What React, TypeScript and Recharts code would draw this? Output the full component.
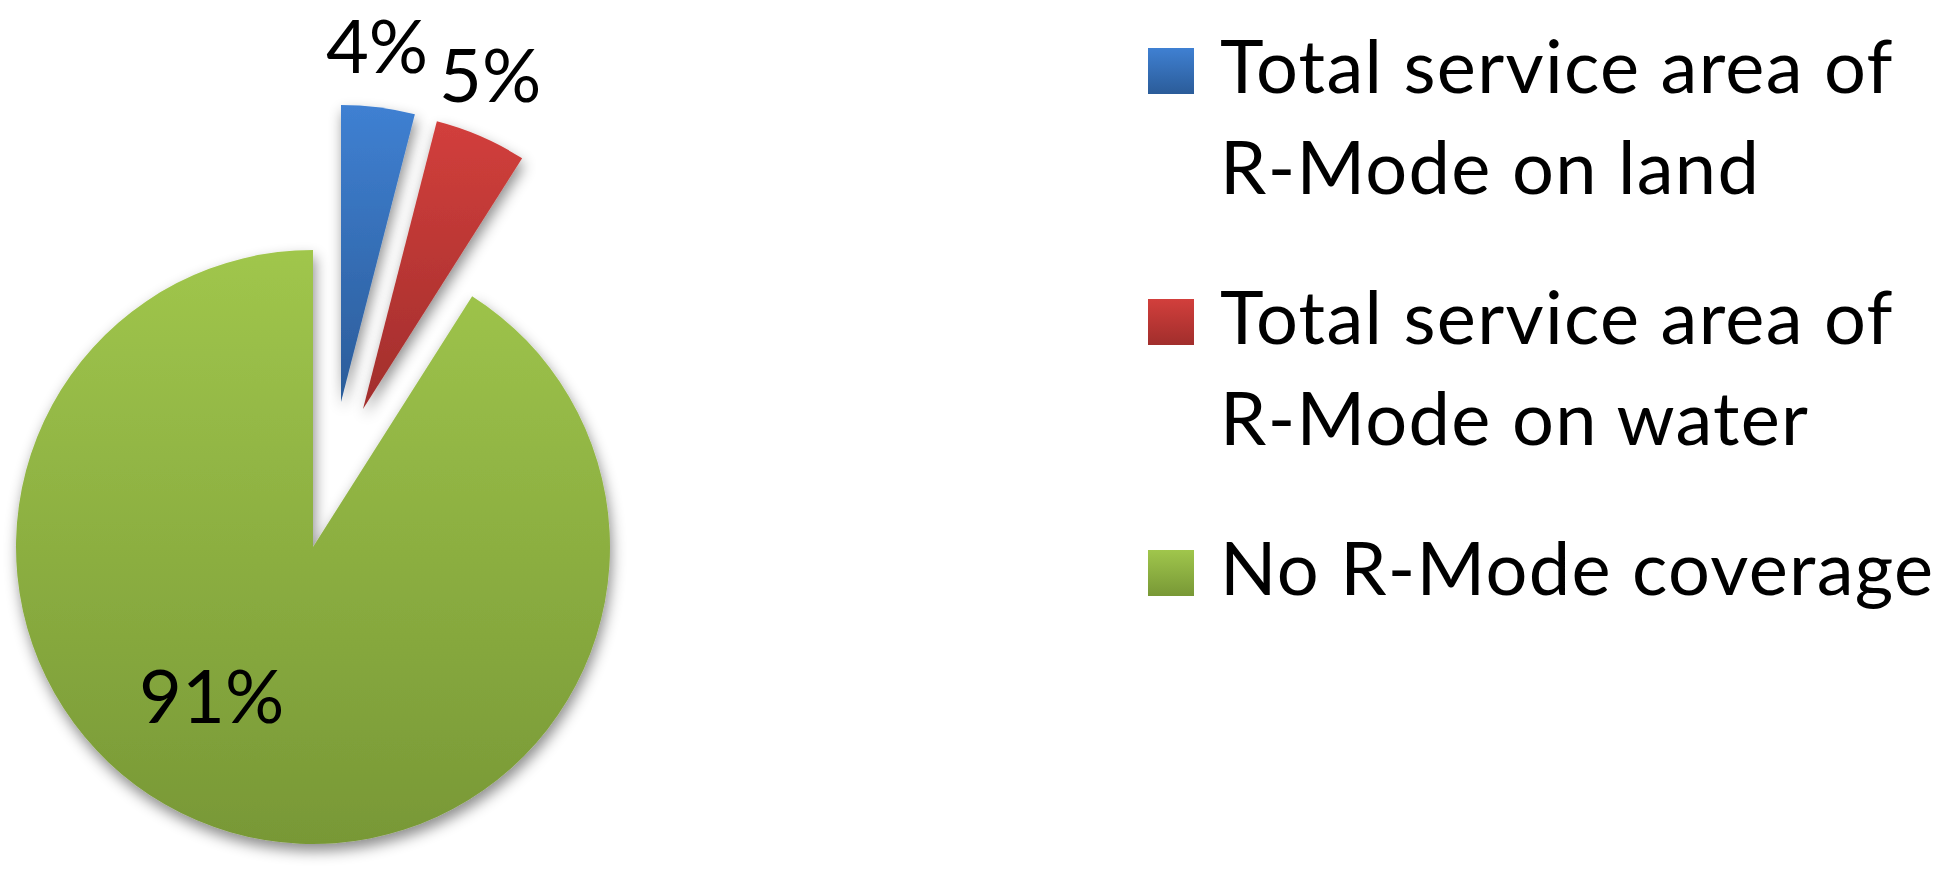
import React from 'react';
import { PieChart, Pie, Legend, Sector } from 'recharts';

// ---- data ----
const categories = [
  'Total service area of R-Mode on land',
  'Total service area of R-Mode on water',
  'No R-Mode coverage',
];
const values = [4, 5, 91];
const percentLabels = ['4%', '5%', '91%'];
const legendLines = [
  ['Total service area of', 'R-Mode on land'],
  ['Total service area of', 'R-Mode on water'],
  ['No R-Mode coverage'],
];

const data = categories.map((name, i) => ({ name, value: values[i] }));

// ---- style ----
const FONT = 'Lato, "Open Sans", sans-serif';
const FONT_SIZE = 74;
const GRADIENTS = [
  { id: 'gBlue', top: '#3F80D2', bottom: '#2B5C99' },
  { id: 'gRed', top: '#D23F3C', bottom: '#A12E2C' },
  { id: 'gGreen', top: '#A0C64C', bottom: '#789836' },
];
const EXPLODE = [
  { dx: 28, dy: -145 },
  { dx: 50, dy: -138 },
  { dx: 0, dy: 0 },
];
const LABEL_POS = [
  { rf: 1.2, shift: 1.4 },
  { rf: 1.2, shift: 2.5 },
  { rf: 0.61, shift: -17.8 },
];
const RAD = Math.PI / 180;

const idxOf = (name: string) => categories.indexOf(name);

const renderSector = (props: any) => {
  const i = idxOf(props.name ?? props.payload?.name);
  const e = EXPLODE[i] || { dx: 0, dy: 0 };
  return (
    <Sector
      cx={props.cx + e.dx}
      cy={props.cy + e.dy}
      innerRadius={0}
      outerRadius={props.outerRadius}
      startAngle={props.startAngle}
      endAngle={props.endAngle}
      fill={`url(#${GRADIENTS[i].id})`}
      stroke="none"
      filter="url(#pieShadow)"
    />
  );
};

const renderLabel = (props: any) => {
  const i = idxOf(props.name ?? props.payload?.name);
  const e = EXPLODE[i];
  const lp = LABEL_POS[i];
  const ang = (props.midAngle + lp.shift) * RAD;
  const r = props.outerRadius * lp.rf;
  const x = props.cx + e.dx + Math.cos(-ang) * r;
  const y = props.cy + e.dy + Math.sin(-ang) * r;
  return (
    <text
      x={x}
      y={y + 26}
      textAnchor="middle"
      fontFamily={FONT}
      fontSize={FONT_SIZE}
      fill="#000"
    >
      {percentLabels[i]}
    </text>
  );
};

const renderLegend = () => (
  <svg width={802} height={660} style={{ display: 'block' }}>
    {legendLines.map((lines, i) => {
      const base = 93 + i * 251;
      return (
        <g key={i}>
          <rect x={8} y={base + 1 - 46} width={46} height={46} fill={`url(#${GRADIENTS[i].id}L)`} />
          {lines.map((ln, j) => (
            <text
              key={j}
              x={80}
              y={base + j * 101}
              fontFamily={FONT}
              fontSize={FONT_SIZE}
              letterSpacing={1.3}
              fill="#000"
            >
              {ln}
            </text>
          ))}
        </g>
      );
    })}
    <defs>
      {GRADIENTS.map((g) => (
        <linearGradient key={g.id} id={`${g.id}L`} x1="0" y1="0" x2="0" y2="1">
          <stop offset="0%" stopColor={g.top} />
          <stop offset="100%" stopColor={g.bottom} />
        </linearGradient>
      ))}
    </defs>
  </svg>
);

export default function App() {
  return (
    <div style={{ position: 'absolute', left: 0, top: 0, width: 1942, height: 888, background: '#fff' }}>
      <PieChart width={1942} height={888} margin={{ top: 0, right: 0, bottom: 0, left: 0 }}>
        <defs>
          {GRADIENTS.map((g) => (
            <linearGradient key={g.id} id={g.id} x1="0" y1="0" x2="0" y2="1">
              <stop offset="0%" stopColor={g.top} />
              <stop offset="100%" stopColor={g.bottom} />
            </linearGradient>
          ))}
          <filter id="pieShadow" x="-20%" y="-20%" width="140%" height="140%">
            <feDropShadow dx="2" dy="7" stdDeviation="7" floodColor="#000" floodOpacity="0.45" />
          </filter>
        </defs>
        <Pie
          data={data}
          dataKey="value"
          nameKey="name"
          cx={313}
          cy={547}
          outerRadius={297}
          startAngle={90}
          endAngle={-270}
          stroke="none"
          isAnimationActive={false}
          shape={renderSector}
          activeShape={renderSector}
          inactiveShape={renderSector}
          label={renderLabel}
          labelLine={false}
        />
        <Legend
          layout="vertical"
          align="right"
          verticalAlign="top"
          content={renderLegend}
          wrapperStyle={{ position: 'absolute', left: 1140, top: 0, width: 802, height: 660 }}
        />
      </PieChart>
    </div>
  );
}
